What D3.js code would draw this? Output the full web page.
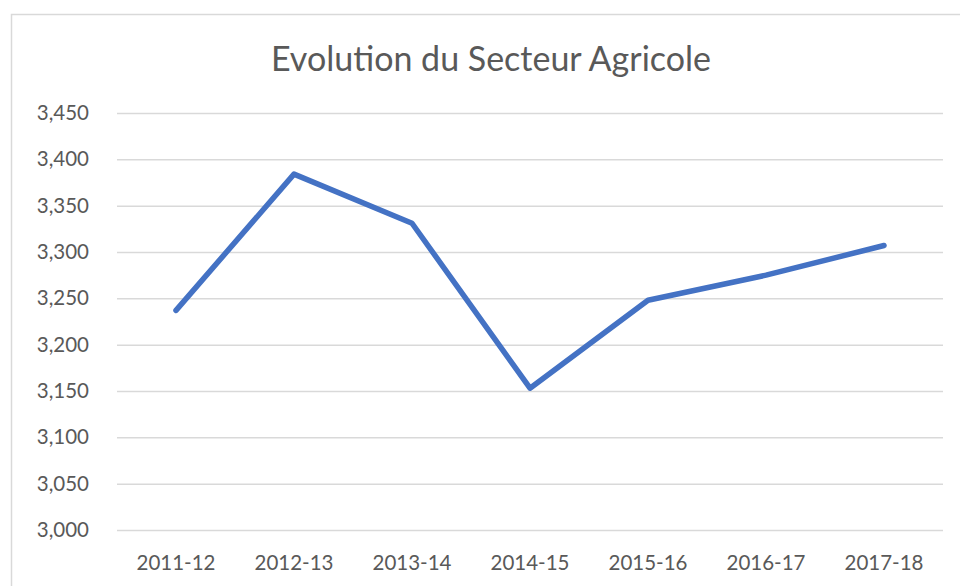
<!DOCTYPE html>
<html>
<head>
<meta charset="utf-8">
<script src="https://cdn.jsdelivr.net/npm/d3@7"></script>
<style>
  body { margin: 0; background: #fff; }
  svg { display: block; }
</style>
</head>
<body>
<svg id="chart" width="960" height="586"></svg>
<script>
// data
var years = ["2011-12", "2012-13", "2013-14", "2014-15", "2015-16", "2016-17", "2017-18"];
var values = [3237, 3384, 3331, 3153, 3248, 3275, 3307];
var yTicks = [3000, 3050, 3100, 3150, 3200, 3250, 3300, 3350, 3400, 3450];

var svg = d3.select("#chart");

var plotLeft = 117, plotRight = 943, plotTop = 113, plotBottom = 530;

// chart frame
svg.append("rect")
  .attr("x", 11.5).attr("y", 14.5)
  .attr("width", 970).attr("height", 600)
  .style("fill", "none")
  .style("stroke", "#d9d9d9")
  .style("stroke-width", 1.5);

svg.append("text")
  .attr("x", 491).attr("y", 71)
  .attr("text-anchor", "middle")
  .style("font-family", "Lato, 'Open Sans', sans-serif")
  .style("font-size", "34px")
  .style("fill", "#595959")
  .text("Evolution du Secteur Agricole");

var x = d3.scaleBand().domain(years).range([plotLeft, plotRight]);
var y = d3.scaleLinear().domain([3000, 3450]).range([plotBottom, plotTop]);

// gridlines + y labels
var yAxis = d3.axisLeft(y).tickValues(yTicks)
  .tickSize(-(plotRight - plotLeft))
  .tickPadding(28)
  .tickFormat(d3.format(","));

var gy = svg.append("g")
  .attr("transform", "translate(" + plotLeft + ",0)")
  .call(yAxis);
gy.select(".domain").remove();
gy.selectAll(".tick line").style("stroke", "#d9d9d9").style("stroke-width", 1.5);
gy.selectAll(".tick text")
  .style("font-family", "Lato, 'Open Sans', sans-serif")
  .style("font-size", "20.5px")
  .style("fill", "#595959");

var xAxis = d3.axisBottom(x).tickSize(0).tickPadding(25);
var gx = svg.append("g")
  .attr("transform", "translate(0," + plotBottom + ")")
  .call(xAxis);
gx.select(".domain").remove();
gx.selectAll(".tick text")
  .style("font-family", "Lato, 'Open Sans', sans-serif")
  .style("font-size", "20.5px")
  .style("fill", "#595959");

var line = d3.line()
  .x(function(d, i) { return x(years[i]) + x.bandwidth() / 2; })
  .y(function(d) { return y(d); });

svg.append("path")
  .datum(values)
  .attr("d", line)
  .style("fill", "none")
  .style("stroke", "#4472c4")
  .style("stroke-width", 5.5)
  .style("stroke-linecap", "round")
  .style("stroke-linejoin", "round");
</script>
</body>
</html>
